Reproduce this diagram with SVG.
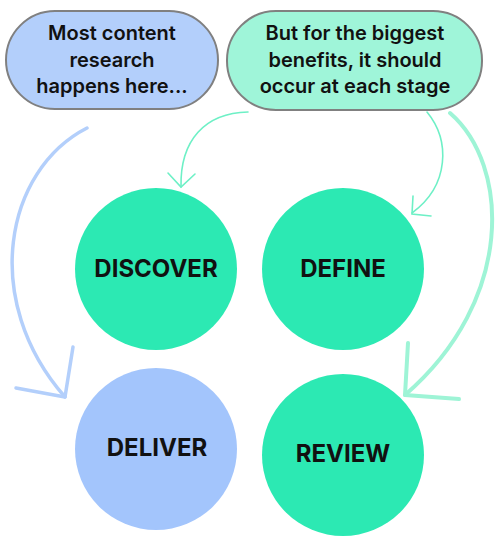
<svg xmlns="http://www.w3.org/2000/svg" width="500" height="539" viewBox="0 0 500 539">
<style>
.bub{stroke:#808080;stroke-width:2}
.bt{font-family:Inter,"Open Sans","DejaVu Sans",sans-serif;font-size:20px;font-weight:600;fill:#111;text-anchor:middle}
.ct{font-family:Inter,"Open Sans","DejaVu Sans",sans-serif;font-size:24px;font-weight:700;fill:#111;text-anchor:middle}
.g{fill:#2ce9b3}
.thin{fill:none;stroke:#6ef0c6;stroke-width:1.6;stroke-linecap:round}
.blue{fill:none;stroke:#b3cffb;stroke-width:3.5;stroke-linecap:round;stroke-linejoin:round}
.mint{fill:none;stroke:#9ef4d6;stroke-width:4;stroke-linecap:round;stroke-linejoin:round}
</style>
<rect width="500" height="539" fill="#fff"/>
<g id="connectors">
<path class="thin" d="M248,112 C205,113 180,140 181,187"/>
<polyline class="thin" points="168,173 181,187 195,174"/>
<path class="thin" d="M427,112 C450,140 450,185 412,213"/>
<polyline class="thin" points="413,196 412,214 431,216"/>
<path class="blue" d="M87,128 C5,170 -20,300 65,397"/>
<polyline class="blue" points="73,347 65,397 16,388"/>
<path class="mint" d="M450,113 C510,165 515,300 405,395"/>
<polyline class="mint" points="408,343 405,395 459,399"/>
</g>
<g id="note-research">
<rect class="bub" x="6" y="11" width="212" height="98" rx="49" fill="#b3cffb"/>
<text class="bt" x="112" y="40">Most content</text>
<text class="bt" x="112" y="67">research</text>
<text class="bt" x="112" y="93">happens here...</text>
</g>
<g id="note-stages">
<rect class="bub" x="227" y="11" width="255" height="99" rx="49" fill="#9ff5d9"/>
<text class="bt" x="355" y="40">But for the biggest</text>
<text class="bt" x="355" y="67">benefits, it should</text>
<text class="bt" x="355" y="93">occur at each stage</text>
</g>
<g id="discover">
<circle class="g" cx="156" cy="269" r="81"/>
<text class="ct" x="156" y="277">DISCOVER</text>
</g>
<g id="define">
<circle class="g" cx="343" cy="269" r="81"/>
<text class="ct" x="343" y="277">DEFINE</text>
</g>
<g id="deliver">
<circle cx="156" cy="449" r="81" fill="#a3c5fc"/>
<text class="ct" x="157" y="456">DELIVER</text>
</g>
<g id="review">
<circle class="g" cx="343" cy="455" r="81"/>
<text class="ct" x="343" y="462">REVIEW</text>
</g>
</svg>
